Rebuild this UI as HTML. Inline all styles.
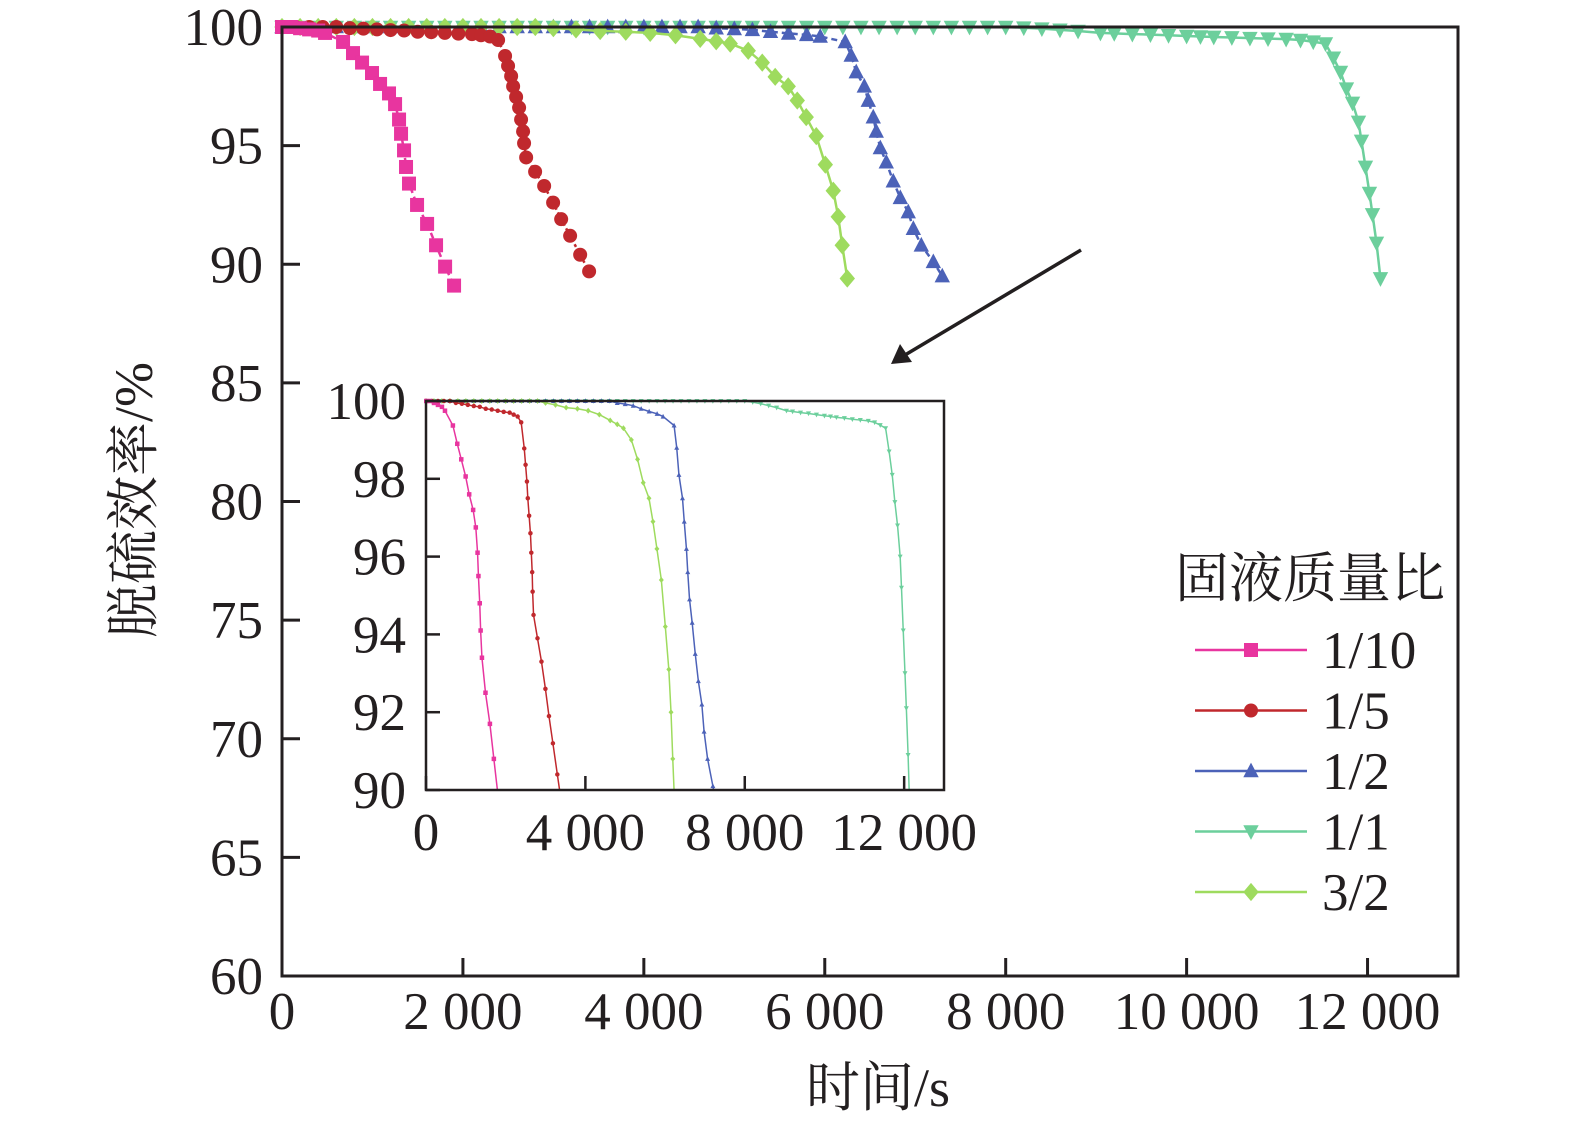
<!DOCTYPE html>
<html><head><meta charset="utf-8"><style>
html,body{margin:0;padding:0;background:#fff;}
svg text{font-family:"Liberation Serif","Noto Serif CJK SC",serif;fill:#231f20;}
</style></head><body>
<svg id="chart" width="1575" height="1127" viewBox="0 0 1575 1127" xmlns="http://www.w3.org/2000/svg"></svg>
<script>
const seriesNames=["1/10","1/5","1/2","1/1","3/2"];
const seriesColors=["#e8359f","#c0282d","#4c62b8","#6ccf9c","#9edb5e"];
const markerTypes=["square","circle","triangle","tridown","diamond"];
const dashes=["6,4","3,3","6,4","none","none"];
const mainXTicks=[0,2000,4000,6000,8000,10000,12000];
const mainXTickLabels=["0","2 000","4 000","6 000","8 000","10 000","12 000"];
const mainYTicks=[60,65,70,75,80,85,90,95,100];
const insetXTicks=[0,4000,8000,12000];
const insetXTickLabels=["0","4 000","8 000","12 000"];
const insetYTicks=[90,92,94,96,98,100];
const t1=[0,100,200,300,400,476,675,785,885,995,1084,1183,1250,1294,1316,1349,1371,1404,1493,1604,1703,1803,1902];
const v1=[100,100,99.95,99.9,99.85,99.75,99.37,98.9,98.5,98.06,97.6,97.2,96.75,96.1,95.5,94.8,94.1,93.4,92.5,91.7,90.8,89.9,89.1];
const t2=[0,150,300,450,600,750,900,1050,1200,1350,1500,1650,1800,1950,2100,2200,2300,2389,2466,2499,2533,2555,2588,2621,2643,2665,2676,2699,2798,2898,2997,3086,3185,3296,3395];
const v2=[100,100,100,100,100,99.95,99.93,99.9,99.87,99.85,99.8,99.78,99.75,99.72,99.7,99.65,99.6,99.45,98.78,98.36,97.93,97.5,97.05,96.6,96.1,95.6,95.1,94.5,93.9,93.3,92.6,91.9,91.2,90.4,89.7];
const t3=[0,200,400,600,800,1000,1200,1400,1600,1800,2000,2200,2400,2600,2800,3000,3200,3400,3600,3800,4000,4200,4400,4600,4800,5000,5200,5400,5600,5800,5950,6226,6292,6348,6437,6481,6536,6569,6614,6680,6757,6835,6923,6979,7067,7200,7299];
const v3=[100,100,100,100,100,100,100,100,100,100,100,100,100,100,100,100,100,100,100,100,100,100,100,100,99.95,99.92,99.88,99.8,99.73,99.67,99.6,99.37,98.8,98.1,97.5,96.9,96.2,95.6,94.9,94.3,93.5,92.8,92.2,91.5,90.8,90.1,89.5];
const t4=[0,200,400,600,800,1000,1200,1400,1600,1800,2000,2200,2400,2600,2800,3000,3200,3400,3600,3800,4000,4200,4400,4600,4800,5000,5200,5400,5600,5800,6000,6200,6400,6600,6800,7000,7200,7400,7600,7800,8000,8200,8400,8600,8800,9047,9200,9400,9600,9800,10000,10153,10300,10500,10700,10900,11100,11259,11400,11535,11623,11701,11767,11834,11900,11933,11977,12021,12055,12099,12143];
const v4=[100,100,100,100,100,100,100,100,100,100,100,100,100,100,100,100,100,100,100,100,100,100,100,100,100,100,100,100,100,100,100,100,100,100,100,100,100,100,100,100,100,99.97,99.93,99.88,99.83,99.75,99.73,99.7,99.68,99.65,99.62,99.6,99.58,99.56,99.53,99.51,99.49,99.45,99.38,99.3,98.7,98.1,97.4,96.8,96.0,95.2,94.1,93.0,92.1,90.9,89.4];
const t5=[0,200,400,600,800,1000,1200,1400,1600,1800,2000,2200,2400,2600,2800,3000,3250,3517,3800,4070,4350,4623,4800,4955,5154,5309,5452,5596,5696,5795,5906,6006,6094,6149,6193,6249];
const v5=[100,100,100,100,100,100,100,100,100,100,100,100,100,100,100,99.95,99.9,99.83,99.8,99.75,99.65,99.5,99.4,99.3,99.0,98.5,97.9,97.5,96.9,96.2,95.4,94.2,93.1,92.0,90.8,89.4];
const allT=[t1,t2,t3,t4,t5], allV=[v1,v2,v3,v4,v5];

const NS="http://www.w3.org/2000/svg";
const svg=document.getElementById("chart");
function mk(tag,attrs,parent){const e=document.createElementNS(NS,tag);for(const k in attrs)e.setAttribute(k,attrs[k]);(parent||svg).appendChild(e);return e;}
const mx=t=>282+t*(1176/13000);
const my=v=>976-(v-60)*(949/40);
const ix=t=>426+t*(518/13000);
const iy=v=>790-(v-90)*(389/10);

function marker(type,x,y,s,color,parent){
  let e;
  if(type==="square")e=mk("rect",{x:x-s/2,y:y-s/2,width:s,height:s,fill:color},parent);
  else if(type==="circle")e=mk("circle",{cx:x,cy:y,r:s/2,fill:color},parent);
  else if(type==="triangle")e=mk("polygon",{points:`${x},${y-s*0.6} ${x-s*0.55},${y+s*0.45} ${x+s*0.55},${y+s*0.45}`,fill:color},parent);
  else if(type==="tridown")e=mk("polygon",{points:`${x},${y+s*0.6} ${x-s*0.55},${y-s*0.45} ${x+s*0.55},${y-s*0.45}`,fill:color},parent);
  else e=mk("polygon",{points:`${x},${y-s*0.65} ${x+s*0.55},${y} ${x},${y+s*0.65} ${x-s*0.55},${y}`,fill:color},parent);
  return e;
}

const gMain=mk("g",{});


const order=[3,2,4,1,0];
order.forEach(i=>{
  const g=mk("g",{},gMain);
  
  
  const pts=allT[i].map((t,j)=>mx(t)+","+my(allV[i][j])).join(" ");
  mk("polyline",{points:pts,fill:"none",stroke:seriesColors[i],"stroke-width":2.5,"stroke-dasharray":dashes[i]},g);
  allT[i].forEach((t,j)=>{const m=marker(markerTypes[i],mx(t),my(allV[i][j]),14,seriesColors[i],g);
    
    });
});

const frame=mk("rect",{x:282,y:27,width:1176,height:949,fill:"none",stroke:"#231f20","stroke-width":3});


mainYTicks.forEach(v=>{
  mk("line",{x1:282,x2:300,y1:my(v),y2:my(v),stroke:"#231f20","stroke-width":3});
  const tx=mk("text",{x:263,y:my(v)+18,"text-anchor":"end","font-size":53});
  tx.textContent=v;
  
  
});
mainXTicks.forEach((t,k)=>{
  mk("line",{x1:mx(t),x2:mx(t),y1:976,y2:958,stroke:"#231f20","stroke-width":3});
  const tx=mk("text",{x:mx(t),y:1029,"text-anchor":"middle","font-size":53});
  tx.textContent=mainXTickLabels[k];
  
  
});
const xt=mk("text",{x:878,y:1106,"text-anchor":"middle","font-size":54});
xt.textContent="时间/s";


const yt=mk("text",{x:0,y:0,"text-anchor":"middle","font-size":54,transform:"translate(152,500) rotate(-90)"});
yt.textContent="脱硫效率/%";



const ar=mk("g",{});


mk("line",{x1:1081,y1:250,x2:905,y2:355,stroke:"#231f20","stroke-width":3.5},ar);
mk("polygon",{points:"891,364 900,344 912,362",fill:"#231f20"},ar);

const gIn=mk("g",{});


mk("rect",{x:426,y:401,width:518,height:389,fill:"#fff"},gIn);
const cp=mk("clipPath",{id:"ic"},gIn);
mk("rect",{x:424,y:396,width:522,height:395},cp);
const gInS=mk("g",{"clip-path":"url(#ic)"},gIn);
order.forEach(i=>{
  const g=mk("g",{},gInS);
  
  
  const pts=allT[i].map((t,j)=>ix(t)+","+iy(allV[i][j])).join(" ");
  mk("polyline",{points:pts,fill:"none",stroke:seriesColors[i],"stroke-width":1.5},g);
  allT[i].forEach((t,j)=>{const m=marker(markerTypes[i],ix(t),iy(allV[i][j]),4.5,seriesColors[i],g);
    
    });
});
mk("rect",{x:426,y:401,width:518,height:389,fill:"none",stroke:"#231f20","stroke-width":2.5},gIn);
insetYTicks.forEach(v=>{
  mk("line",{x1:426,x2:440,y1:iy(v),y2:iy(v),stroke:"#231f20","stroke-width":2.5},gIn);
  const tx=mk("text",{x:406,y:iy(v)+18,"text-anchor":"end","font-size":53},gIn);
  tx.textContent=v;
  
  
});
insetXTicks.forEach((t,k)=>{
  mk("line",{x1:ix(t),x2:ix(t),y1:790,y2:776,stroke:"#231f20","stroke-width":2.5},gIn);
  const tx=mk("text",{x:ix(t),y:850,"text-anchor":"middle","font-size":53},gIn);
  tx.textContent=insetXTickLabels[k];
  
  
});

const lg=mk("g",{});


const lt=mk("text",{x:1175,y:597,"font-size":54},lg);
lt.textContent="固液质量比";


seriesNames.forEach((n,i)=>{
  const y=650+i*60.5;
  const e=mk("g",{},lg);
  
  
  mk("line",{x1:1195,x2:1307,y1:y,y2:y,stroke:seriesColors[i],"stroke-width":2.5},e);
  marker(markerTypes[i],1251,y,14,seriesColors[i],e);
  const tx=mk("text",{x:1322,y:y+18,"font-size":53},e);
  tx.textContent=n;
});
</script>
</body></html>
